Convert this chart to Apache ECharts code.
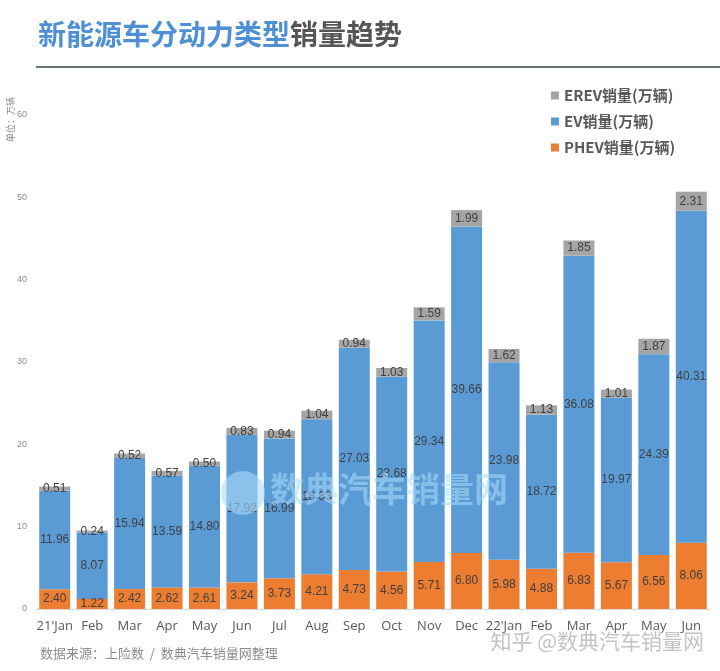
<!DOCTYPE html>
<html>
<head>
<meta charset="utf-8">
<script src="https://cdn.jsdelivr.net/npm/echarts@6/dist/echarts.min.js"></script>
<style>
html,body{margin:0;padding:0;background:#fff;}
#chart{width:720px;height:671px;}
</style>
</head>
<body>
<div id="chart"></div>
<script>
var categories = ["21'Jan","Feb","Mar","Apr","May","Jun","Jul","Aug","Sep","Oct","Nov","Dec","22'Jan","Feb","Mar","Apr","May","Jun"];
var phev = [2.40,1.22,2.42,2.62,2.61,3.24,3.73,4.21,4.73,4.56,5.71,6.80,5.98,4.88,6.83,5.67,6.56,8.06];
var ev   = [11.96,8.07,15.94,13.59,14.80,17.92,16.99,18.83,27.03,23.68,29.34,39.66,23.98,18.72,36.08,19.97,24.39,40.31];
var erev = [0.51,0.24,0.52,0.57,0.50,0.83,0.94,1.04,0.94,1.03,1.59,1.99,1.62,1.13,1.85,1.01,1.87,2.31];
var yTicks = [0,10,20,30,40,50,60];
var seriesNames = ["PHEV销量(万辆)","EV销量(万辆)","EREV销量(万辆)"];

var chart = echarts.init(document.getElementById('chart'), null, {renderer:'canvas'});
var numFont = '"Liberation Sans", Arial, sans-serif';
var cjk = '"Noto Sans CJK SC", "Noto Sans", sans-serif';
function lbl(){
  return {show:true, position:'inside', color:'#404040', fontSize:12, fontFamily:numFont,
    formatter:function(p){return p.value.toFixed(2);}};
}
var option = {
  backgroundColor:'#fff',
  animation:false,
  legend:{
    data:[seriesNames[2],seriesNames[1],seriesNames[0]],
    orient:'vertical', left:546, top:83, itemWidth:8, itemHeight:8, itemGap:11,
    icon:'rect',
    textStyle:{fontSize:15, fontWeight:'bold', color:'#595959', fontFamily:cjk}
  },
  grid:{left:36, right:10, top:115, bottom:62},
  xAxis:{
    type:'category', data:categories,
    axisLine:{lineStyle:{color:'#d9d9d9', width:1}},
    axisTick:{show:false},
    axisLabel:{color:'#595959', fontSize:13, margin:11, fontFamily:'"Open Sans", "Noto Sans", sans-serif', interval:0}
  },
  yAxis:{
    type:'value', min:yTicks[0], max:yTicks[yTicks.length-1], interval:10,
    splitLine:{show:false}, axisLine:{show:false}, axisTick:{show:false},
    axisLabel:{color:'#8c8c8c', fontSize:9, margin:9, fontFamily:numFont}
  },
  series:[
    {name:seriesNames[0], type:'bar', stack:'a', data:phev, barWidth:31, itemStyle:{color:'#ed7d31'}, label:lbl()},
    {name:seriesNames[1], type:'bar', stack:'a', data:ev, barWidth:31, itemStyle:{color:'#5b9bd5'}, label:lbl()},
    {name:seriesNames[2], type:'bar', stack:'a', data:erev, barWidth:31, itemStyle:{color:'#a5a5a5'}, label:lbl()}
  ],
  graphic:[
    {type:'text', left:38, top:20, style:{text:'新能源车分动力类型', fill:'#4f90d4', font:'bold 28px "Noto Sans CJK SC"'}},
    {type:'text', left:290, top:20, style:{text:'销量趋势', fill:'#555555', font:'bold 28px "Noto Sans CJK SC"'}},
    {type:'line', shape:{x1:36, y1:67, x2:720, y2:67}, style:{stroke:'#66727f', lineWidth:2}},
    {type:'text', x:11, y:97, rotation:Math.PI/2, style:{text:'单位：万辆', font:'9px "Noto Sans CJK SC"', fill:'#8c8c8c', textAlign:'right', textVerticalAlign:'middle'}},
    {type:'text', left:40, top:647, style:{text:'数据来源：上险数  /  数典汽车销量网整理', font:'13px "Noto Sans CJK SC"', fill:'#8c8c8c'}},
    {type:'text', left:490, top:630, z:100, style:{text:'知乎 @数典汽车销量网', font:'21px "Noto Sans CJK SC"', fill:'#c4c4c4', stroke:'#ffffff', lineWidth:1}},
    {type:'circle', z:100, shape:{cx:243, cy:493, r:22}, style:{fill:'rgba(170,220,250,0.6)'}},
    {type:'text', left:270, top:472, z:100, style:{text:'数典汽车销量网', font:'bold 34px "Noto Sans CJK SC"', fill:'rgba(170,220,250,0.55)'}}
  ]
};
chart.setOption(option);
</script>
</body>
</html>
